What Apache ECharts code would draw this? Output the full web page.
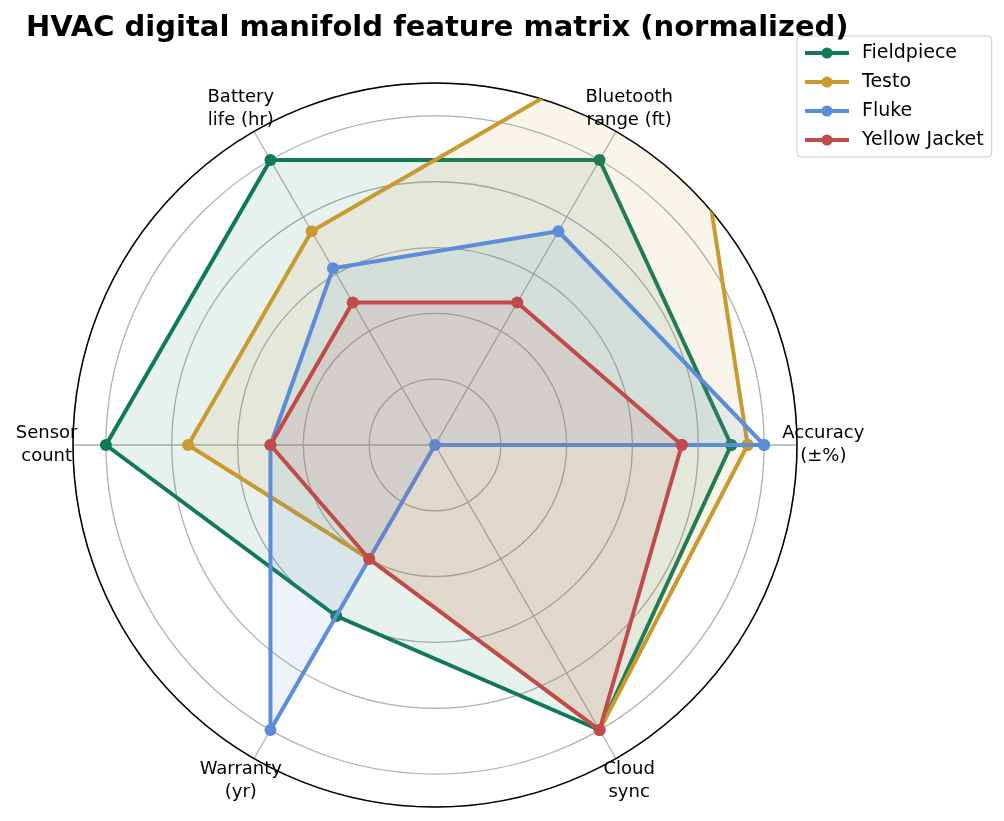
<!DOCTYPE html>
<html>
<head>
<meta charset="utf-8">
<script src="https://cdn.jsdelivr.net/npm/echarts@6/dist/echarts.min.js"></script>
<style>
html, body { margin: 0; padding: 0; background: #fff; }
#main { width: 1004px; height: 821px; }
</style>
</head>
<body>
<div id="main"></div>
<script>
// 维度 (逆时针, 从右侧开始)
var features = ['Accuracy\n(±%)', 'Bluetooth\nrange (ft)', 'Battery\nlife (hr)', 'Sensor\ncount', 'Warranty\n(yr)', 'Cloud\nsync'];
var brands = ['Fieldpiece', 'Testo', 'Fluke', 'Yellow Jacket'];
var colors = ['#0f7a55', '#c99a2f', '#5b8dd8', '#c24a4b'];

// 归一化数值
var fieldpiece = [0.9, 1.0, 1.0, 1.0, 0.6, 1.0];
var testo = [0.95, 1.5, 0.75, 0.75, 0.4, 1.0];
var fluke = [1.0, 0.75, 0.62, 0.5, 1.0, 0.0];
var yellowJacket = [0.75, 0.5, 0.5, 0.5, 0.4, 1.0];

var rMax = 1.1;
var labelR = 1.18;
var font = 'DejaVu Sans';

// 闭合折线: [半径, 角度]
function closedLoop(values) {
    var step = 360 / values.length;
    var pts = values.map(function (v, i) { return [v, i * step]; });
    pts.push([values[0], 360]);
    return pts;
}

var allValues = [fieldpiece, testo, fluke, yellowJacket];
var series = brands.map(function (name, i) {
    return {
        name: name,
        type: 'line',
        coordinateSystem: 'polar',
        data: closedLoop(allValues[i]),
        clip: true,
        symbol: 'circle',
        symbolSize: 12,
        color: colors[i],
        lineStyle: { width: 4, color: colors[i] },
        itemStyle: { color: colors[i] },
        areaStyle: { color: colors[i], opacity: 0.1 },
        z: 3 + i
    };
});

// 维度名称
series.push({
    type: 'scatter',
    coordinateSystem: 'polar',
    silent: true,
    clip: false,
    symbolSize: 1,
    itemStyle: { color: 'rgba(0,0,0,0)', opacity: 1 },
    data: features.map(function (f, i) { return [labelR, i * 360 / features.length]; }),
    label: {
        show: true,
        position: 'inside',
        formatter: function (p) { return features[p.dataIndex]; },
        color: '#000',
        opacity: 1,
        textBorderWidth: 0,
        fontFamily: font,
        fontSize: 18,
        lineHeight: 23,
        align: 'center',
        verticalAlign: 'middle'
    },
    z: 10
});

var chart = echarts.init(document.getElementById('main'));
chart.setOption({
    animation: false,
    backgroundColor: '#ffffff',
    title: {
        text: 'HVAC digital manifold feature matrix (normalized)',
        left: 21,
        top: 9,
        textStyle: { fontFamily: font, fontSize: 29, fontWeight: 'bold', color: '#000' }
    },
    legend: {
        data: brands,
        orient: 'vertical',
        left: 797,
        top: 36,
        padding: [6, 8, 6, 6],
        itemWidth: 44,
        itemHeight: 14,
        itemGap: 7,
        borderColor: '#cccccc',
        borderWidth: 1,
        borderRadius: 4,
        lineStyle: { width: 4 },
        textStyle: { fontFamily: font, fontSize: 19, lineHeight: 22, color: '#000', padding: [0, 0, 0, 8] }
    },
    polar: {
        center: [435, 445],
        radius: 362
    },
    angleAxis: {
        type: 'value',
        min: 0,
        max: 360,
        interval: 60,
        startAngle: 0,
        clockwise: false,
        axisLine: { lineStyle: { color: '#000', width: 1.5 } },
        axisTick: { show: false },
        axisLabel: { show: false },
        splitLine: { lineStyle: { color: '#b0b0b0', width: 1.3 } }
    },
    radiusAxis: {
        type: 'value',
        min: 0,
        max: rMax,
        interval: 0.2,
        axisLine: { show: false },
        axisTick: { show: false },
        axisLabel: { show: false },
        splitLine: { lineStyle: { color: '#b0b0b0', width: 1.3 } }
    },
    tooltip: { show: false },
    series: series
});
</script>
</body>
</html>
